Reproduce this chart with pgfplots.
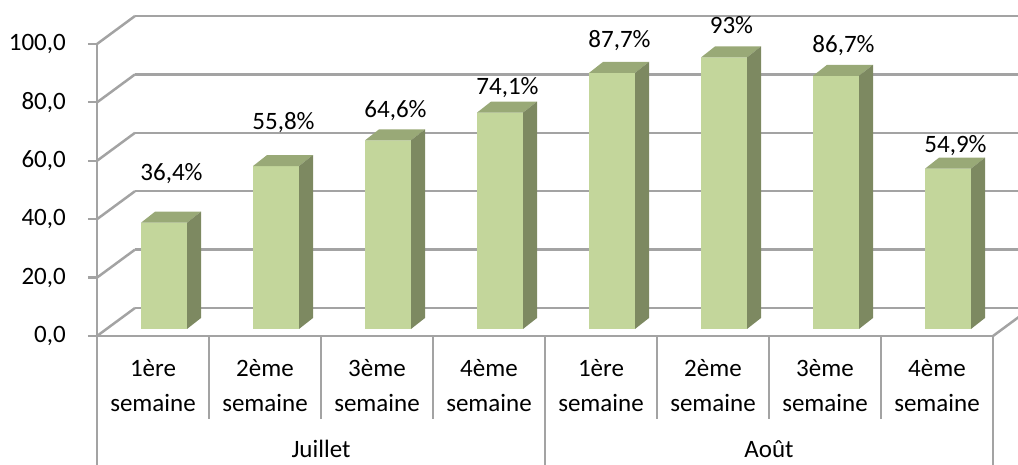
\documentclass[border=0pt]{standalone}
\usepackage{pgfplots}
\pgfplotsset{compat=1.18}
\usepackage{pgfplotstable}
\usepackage{fontspec}
\setmainfont{Carlito}
\definecolor{gridc}{HTML}{A3A3A3}
\definecolor{barfront}{HTML}{C3D69B}
\definecolor{bartop}{HTML}{99A977}
\definecolor{barside}{HTML}{7D8961}

\pgfdeclareplotmark{box3d}{%
  \pgfpathmoveto{\pgfpoint{-21.5pt}{0pt}}%
  \pgfpathlineto{\pgfpoint{-7.5pt}{11pt}}%
  \pgfpathlineto{\pgfpoint{38.5pt}{11pt}}%
  \pgfpathlineto{\pgfpoint{24.5pt}{0pt}}%
  \pgfpathclose
  \pgfsetfillcolor{bartop}%
  \pgfusepath{fill}%
  \pgfpathmoveto{\pgfpoint{24.5pt}{0pt}}%
  \pgfpathlineto{\pgfpoint{38.5pt}{11pt}}%
  \pgfpathlineto{\pgfpoint{38.5pt}{11pt-\pgfplotmarksize}}%
  \pgfpathlineto{\pgfpoint{24.5pt}{-\pgfplotmarksize}}%
  \pgfpathclose
  \pgfsetfillcolor{barside}%
  \pgfusepath{fill}%
}

\pgfplotstableread{
x y off lab
0.5 36.4 49 36,4\%
1.5 55.8 43 55,8\%
2.5 64.6 30 64,6\%
3.5 74.1 25 74,1\%
4.5 87.7 32 87,7\%
5.5 93.0 32 93\%
6.5 86.7 30 86,7\%
7.5 54.9 23 54,9\%
}\data

\begin{document}
\fontsize{25pt}{30pt}\selectfont
\begin{tikzpicture}[wk/.style={align=center, anchor=center, yshift=-50pt, font=\fontsize{25pt}{35pt}\selectfont}]
\useasboundingbox (0,0) rectangle (1018pt,465pt);
% back wall
\begin{axis}[at={(135pt,157pt)}, anchor=south west, scale only axis,
  width=896pt, height=292pt, xmin=0, xmax=8, ymin=0, ymax=100,
  axis line style={draw=none}, ytick={0,20,...,100}, xtick=\empty,
  yticklabels={}, major tick length=0pt, ymajorgrids,
  grid style={gridc, line width=2.5pt}, clip=false]
\end{axis}
% front frame
\begin{axis}[at={(97pt,129pt)}, anchor=south west, scale only axis,
  width=896pt, height=292pt, xmin=0, xmax=8, ymin=0, ymax=100,
  axis lines*=left, axis line style={gridc, line width=2.5pt},
  ytick={0,20,...,100},
  yticklabels={{0,0},{20,0},{40,0},{60,0},{80,0},{100,0}},
  tick align=outside, major tick length=9pt,
  ytick style={gridc, line width=2.2pt},
  xtick=\empty,
  yticklabel style={anchor=east, inner sep=0pt, xshift=-22pt},
  clip=false]
\pgfplotsinvokeforeach{0,20,40,60,80,100}{\draw[gridc, line width=2.5pt] (axis cs:0,#1) -- ++(38pt,28pt);}
\draw[gridc, line width=2.5pt] (axis cs:8,0) -- ++(38pt,28pt);
\pgfplotsinvokeforeach{1,2,3,5,6,7}{\draw[gridc, line width=2pt] (axis cs:#1,0) -- ++(0,-83pt);}
\pgfplotsinvokeforeach{0,4,8}{\draw[gridc, line width=2pt] (axis cs:#1,0) -- ++(0,-130pt);}
\node[wk] at (axis cs:0.5,0) {1ère\\semaine};
\node[wk] at (axis cs:1.5,0) {2ème\\semaine};
\node[wk] at (axis cs:2.5,0) {3ème\\semaine};
\node[wk] at (axis cs:3.5,0) {4ème\\semaine};
\node[wk] at (axis cs:4.5,0) {1ère\\semaine};
\node[wk] at (axis cs:5.5,0) {2ème\\semaine};
\node[wk] at (axis cs:6.5,0) {3ème\\semaine};
\node[wk] at (axis cs:7.5,0) {4ème\\semaine};
\node at (axis cs:2,0) [yshift=-113pt] {Juillet};
\node at (axis cs:6,0) [yshift=-113pt] {Août};
\end{axis}
% bars
\begin{axis}[at={(106.5pt,136pt)}, anchor=south west, scale only axis,
  width=896pt, height=292pt, xmin=0, xmax=8, ymin=0, ymax=100,
  hide axis, clip=false]
\addplot[ybar, bar width=46pt, bar shift=1.5pt, fill=barfront, draw=none,
  nodes near coords, point meta=explicit symbolic,
  visualization depends on={\thisrow{off} \as \off},
  every node near coord/.append style={anchor=center, xshift=9pt, yshift=\off pt, text=black}]
  table[x=x, y=y, meta=lab] {\data};
\addplot[scatter, only marks, mark=box3d,
  visualization depends on={\thisrow{y}*2.92 \as \h},
  scatter/@pre marker code/.append style={/tikz/mark size=\h}]
  table[x=x, y=y] {\data};
\end{axis}
\end{tikzpicture}
\end{document}
